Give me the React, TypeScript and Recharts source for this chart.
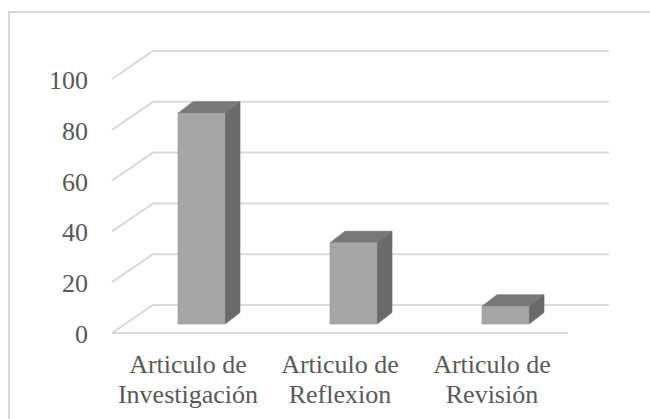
import React from "react";
import { BarChart, Bar, XAxis, YAxis, CartesianGrid } from "recharts";

const categories = ["Articulo de Investigación", "Articulo de Reflexion", "Articulo de Revisión"];
const values = [83, 32, 7];
const yTicks = [0, 20, 40, 60, 80, 100];

const data = categories.map((c, i) => ({ name: c, value: values[i] }));

const FONT = "'Liberation Serif', 'Times New Roman', serif";
const TEXT = "#595959";
const GRID = "#d9d9d9";
// floor depth (oblique projection)
const DEPTH_X = 41;
const DEPTH_Y = -28;
// bar placement inside the depth
const OFF_X = 13;
const OFF_Y = -9;
const BAR_DX = 15;
const BAR_DY = -11.5;

const Bar3D = (props: any) => {
  const { x, y, width, height } = props;
  if (height == null || width == null) return null;
  const fx = x + OFF_X;
  const fy = y + OFF_Y;
  const top = `${fx},${fy} ${fx + BAR_DX},${fy + BAR_DY} ${fx + width + BAR_DX},${fy + BAR_DY} ${fx + width},${fy}`;
  const side = `${fx + width},${fy} ${fx + width + BAR_DX},${fy + BAR_DY} ${fx + width + BAR_DX},${fy + height + BAR_DY} ${fx + width},${fy + height}`;
  return (
    <g>
      <polygon points={side} fill="#6a6a6a" stroke="#666" strokeWidth={0.6} />
      <polygon points={top} fill="#787878" stroke="#707070" strokeWidth={0.6} />
      <rect x={fx} y={fy} width={width} height={height} fill="#a6a6a6" stroke="#9a9a9a" strokeWidth={0.6} />
    </g>
  );
};

const gridLine = (props: any) => {
  const { x1, y1, x2, key } = props;
  const d = `M ${x1} ${y1} L ${x1 + DEPTH_X} ${y1 + DEPTH_Y} L ${x2 + DEPTH_X} ${y1 + DEPTH_Y}`;
  return <path key={key} d={d} stroke={GRID} strokeWidth={2} fill="none" />;
};

const YTick = (props: any) => {
  const { x, y, payload } = props;
  return (
    <text x={x - 24} y={y + 10} textAnchor="end" style={{ fontFamily: FONT, fontSize: 26 }} fill={TEXT}>
      {payload.value}
    </text>
  );
};

const XTick = (props: any) => {
  const { x, y, payload } = props;
  const s: string = payload.value;
  const idx = s.indexOf(" de ");
  const l1 = idx >= 0 ? s.slice(0, idx + 3) : s;
  const l2 = idx >= 0 ? s.slice(idx + 4) : "";
  return (
    <text x={x} y={y} textAnchor="middle" style={{ fontFamily: FONT, fontSize: 26 }} fill={TEXT}>
      <tspan x={x} dy={40}>{l1}</tspan>
      <tspan x={x} dy={30}>{l2}</tspan>
    </text>
  );
};

export default function App() {
  return (
    <div style={{ position: "absolute", left: 0, top: 0, width: 650, height: 419, overflow: "hidden", background: "#fff" }}>
      <div
        style={{
          position: "absolute",
          left: 8,
          top: 11,
          width: 700,
          height: 500,
          border: `2px solid ${GRID}`,
          boxSizing: "border-box",
        }}
      />
      <div style={{ position: "absolute", left: 0, top: 0 }}>
        <BarChart width={650} height={419} data={data} margin={{ top: 79, right: 82, bottom: 0, left: 8 }}>
          <CartesianGrid vertical={false} horizontal={gridLine} />
          <XAxis
            dataKey="name"
            axisLine={{ stroke: GRID, strokeWidth: 2 }}
            tickLine={false}
            tickSize={0}
            tickMargin={0}
            tick={<XTick />}
            interval={0}
            height={86}
          />
          <YAxis
            domain={[0, 100]}
            ticks={yTicks}
            axisLine={false}
            tickLine={false}
            tickSize={0}
            tickMargin={0}
            width={104}
            tick={<YTick />}
          />
          <Bar dataKey="value" barSize={47} shape={<Bar3D />} isAnimationActive={false} />
        </BarChart>
      </div>
    </div>
  );
}
